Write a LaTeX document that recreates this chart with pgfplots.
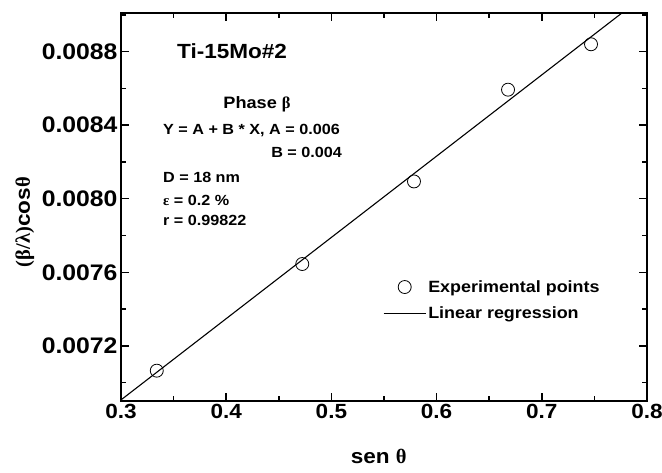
\documentclass[border=0pt]{standalone}
\usepackage{fontspec}
\setmainfont{Liberation Sans}[FakeStretch=1.1]
\newfontfamily\grk{Liberation Serif}
\usepackage{pgfplots}
\pgfplotsset{compat=1.18}
\begin{document}
\begin{tikzpicture}
\begin{axis}[
  scale only axis, width=526pt, height=388pt,
  xmin=0.3, xmax=0.8, ymin=0.0069, ymax=0.00901,
  axis line style={line width=2.2pt},
  tick style={line width=1.5pt, black},
  tick align=inside,
  major tick length=8pt, minor tick length=5pt,
  xtick={0.3,0.4,0.5,0.6,0.7,0.8},
  minor xtick={0.35,0.45,0.55,0.65,0.75},
  ytick={0.0072,0.0076,0.0080,0.0084,0.0088},
  minor ytick={0.0070,0.0074,0.0078,0.0082,0.0086,0.0090},
  scaled y ticks=false, scaled x ticks=false,
  xticklabel style={font=\fontsize{20.5}{22}\selectfont\bfseries, /pgf/number format/.cd, fixed, fixed zerofill, precision=1, assume math mode=true},
  yticklabel style={font=\fontsize{22.5}{24}\selectfont\bfseries, /pgf/number format/.cd, fixed, fixed zerofill, precision=4, assume math mode=true},
  xlabel={\textbf{sen} {\grk θ}},
  ylabel={{\grk (β/λ)}\textbf{cos}{\grk θ}},
  label style={font=\fontsize{20.5}{22}\selectfont\bfseries},
  xlabel style={at={(rel axis cs:0.49,0)}, anchor=base, yshift=-62pt},
  ylabel style={at={(rel axis cs:0,0.461)}, anchor=base, yshift=91pt},
  legend style={draw=none, fill=none, at={(axis cs:0.549,0.007568)}, anchor=north west,
    font=\fontsize{16.3}{18}\selectfont\bfseries, inner sep=0pt, row sep=9pt},
  legend cell align=left,
  legend image code/.code={\draw[mark repeat=2,mark phase=2,#1] plot coordinates {(0pt,0pt)(21pt,0pt)(42pt,0pt)};},
]
\addplot[only marks, mark=o, mark size=6.5pt, mark options={line width=0.8pt}] coordinates {
 (0.334,0.007065) (0.4723,0.007645) (0.5785,0.008094) (0.6679,0.008593) (0.7468,0.00884)};
\addlegendentry{Experimental points}
\addplot[black, line width=1.1pt] coordinates {(0.3,0.006906) (0.78,0.009027)};
\addlegendentry{Linear regression}
\node[anchor=west, inner sep=0pt, font=\fontsize{20.5}{22}\selectfont\bfseries] at (axis cs:0.3532,0.008805) {Ti-15Mo\#2};
\node[anchor=center, font=\fontsize{16.5}{18}\selectfont\bfseries] at (axis cs:0.4293,0.008513) {Phase {\grk β}};
\node[anchor=west, inner sep=0pt, font=\fontsize{14.7}{16}\selectfont\bfseries] at (axis cs:0.3399,0.008372) {Y = A + B * X, A = 0.006};
\node[anchor=east, inner sep=0pt, font=\fontsize{14.7}{16}\selectfont\bfseries] at (axis cs:0.5101,0.008253) {B = 0.004};
\node[anchor=west, inner sep=0pt, font=\fontsize{14.7}{16}\selectfont\bfseries] at (axis cs:0.3399,0.008118) {D = 18 nm};
\node[anchor=west, inner sep=0pt, font=\fontsize{14.7}{16}\selectfont\bfseries] at (axis cs:0.3399,0.007993) {{\grk ε} = 0.2 \%};
\node[anchor=west, inner sep=0pt, font=\fontsize{14.7}{16}\selectfont\bfseries] at (axis cs:0.3399,0.007880) {r = 0.99822};
\end{axis}
\pgfresetboundingbox
\path[use as bounding box] (current axis.south west) ++(-121pt,-71pt) rectangle ([shift={(15pt,13pt)}]current axis.north east);
\end{tikzpicture}
\end{document}
